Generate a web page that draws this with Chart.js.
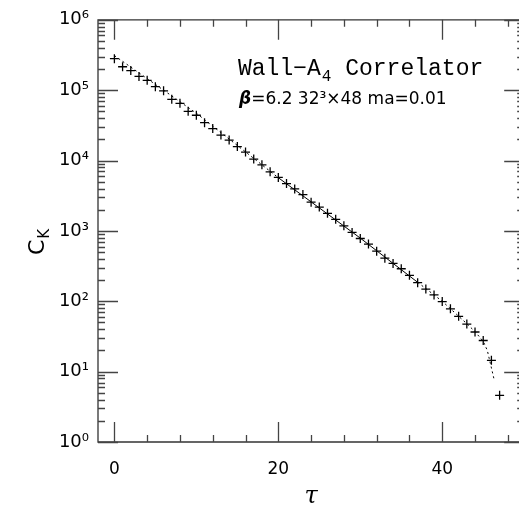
<!DOCTYPE html>
<html><head><meta charset="utf-8">
<script src="https://cdn.jsdelivr.net/npm/chart.js@4"></script>
<style>
html,body{margin:0;padding:0;width:519px;height:506px;overflow:hidden;background:#fff}
#wrap{position:absolute;left:0;top:0;width:530px;height:506px}
</style>
</head><body>
<div id="wrap"><canvas id="c" width="530" height="506"></canvas></div>
<script>
// ---- data ----
const tau = [0,1,2,3,4,5,6,7,8,9,10,11,12,13,14,15,16,17,18,19,20,21,22,23,24,25,26,27,28,29,30,31,32,33,34,35,36,37,38,39,40,41,42,43,44,45,46,47];
const corr = [2.8e5,2.15e5,1.9e5,1.57e5,1.38e5,1.12e5,9.8e4,7.4e4,6.5e4,5.0e4,4.4e4,3.45e4,2.85e4,2.3e4,1.95e4,1.58e4,1.32e4,1.05e4,8.7e3,6.9e3,5.75e3,4.7e3,3.95e3,3.28e3,2.56e3,2.18e3,1.78e3,1.46e3,1.18e3,950,780,650,515,410,345,290,234,184,149,123,99,78,61,47.4,36.6,27.7,14.5,4.6];
const fitTau = [0,10,20,30,37,40,43,44,45,45.5,46.3];
const fitVal = [3.1e5,4.7e4,5.7e3,790,186,100,48,37,27,20,8];
const fitSolidFrom = 20, fitSolidTo = 37;
const xTicks = [0,20,40];
const xMinorTicks = [0,4,8,12,16,20,24,28,32,36,40,44,48];
const yExponents = [0,1,2,3,4,5,6];
const titleLine1 = ['Wall\u2212A','4',' Correlator'];
const titleLine2 = '=6.2 32\u00B3\u00D748 ma=0.01';

const SUP = {'0':'\u2070','1':'\u00B9','2':'\u00B2','3':'\u00B3','4':'\u2074','5':'\u2075','6':'\u2076','7':'\u2077','8':'\u2078','9':'\u2079'};

const framePlugin = {
  id:'frame',
  afterDatasetsDraw(chart){
    const {ctx, chartArea:{left,right,top,bottom}, scales:{x,y}} = chart;
    ctx.save();
    ctx.strokeStyle = '#333';
    ctx.lineWidth = 1.3;
    ctx.beginPath();
    ctx.rect(left, top, right-left, bottom-top);
    ctx.stroke();
    ctx.beginPath();
    ctx.strokeStyle = '#444';
    xMinorTicks.forEach(v=>{
      const px = Math.round(x.getPixelForValue(v))+0.5;
      const len = xTicks.includes(v) ? 20 : 7;
      ctx.moveTo(px,bottom); ctx.lineTo(px,bottom-len);
      ctx.moveTo(px,top); ctx.lineTo(px,top+len);
    });
    yExponents.forEach(e=>{
      for(let m=1;m<=9;m++){
        const v = m*Math.pow(10,e);
        if(v>1e6) break;
        const py = Math.round(y.getPixelForValue(v))+0.5;
        const len = m===1 ? 20 : 7;
        ctx.moveTo(left,py); ctx.lineTo(left+len,py);
        ctx.moveTo(right,py); ctx.lineTo(right-len,py);
      }
    });
    ctx.stroke();
    ctx.restore();
  },
  afterDraw(chart){
    const ctx = chart.ctx;
    ctx.save();
    ctx.fillStyle = '#000';
    ctx.textBaseline = 'alphabetic';
    // y axis title C_K
    ctx.save();
    ctx.translate(44, 255);
    ctx.rotate(-Math.PI/2);
    ctx.font = '22px "DejaVu Sans"';
    ctx.fillText('C', 0, 0);
    const cw = ctx.measureText('C').width;
    ctx.font = '15px "DejaVu Sans"';
    ctx.fillText('K', cw+1, 5);
    ctx.restore();
    // annotation line 1
    let xx = 238;
    ctx.font = '23px "Liberation Mono"';
    ctx.fillText(titleLine1[0], xx, 75);
    xx += ctx.measureText(titleLine1[0]).width;
    ctx.font = '16px "Liberation Mono"';
    ctx.fillText(titleLine1[1], xx+1, 81);
    xx += ctx.measureText(titleLine1[1]).width + 1;
    ctx.font = '23px "Liberation Mono"';
    ctx.fillText(titleLine1[2], xx, 75);
    // annotation line 2
    xx = 239;
    ctx.font = 'italic bold 17px "DejaVu Sans"';
    ctx.fillText('\u03B2', xx, 104);
    xx += ctx.measureText('\u03B2').width;
    ctx.font = '17px "DejaVu Sans"';
    ctx.fillText(titleLine2, xx, 104);
    ctx.restore();
  }
};

new Chart(document.getElementById('c').getContext('2d'), {
  type:'scatter',
  data:{datasets:[
    {label:'fit', type:'line',
     data: fitTau.map((t,i)=>({x:t,y:fitVal[i]})),
     borderColor:'#000', borderWidth:1, pointRadius:0, fill:false, tension:0,
     segment:{borderDash: c => (c.p0.parsed.x>=fitSolidFrom && c.p0.parsed.x<fitSolidTo) ? [] : [2,3]}},
    {label:'C_K', data: tau.map((t,i)=>({x:t,y:corr[i]})),
     pointStyle:'cross', pointRadius:4.5, borderColor:'#000', borderWidth:1.3, showLine:false}
  ]},
  options:{
    responsive:false, animation:false, devicePixelRatio:1,
    layout:{padding:{top:15,right:5,left:0,bottom:0}},
    plugins:{legend:{display:false}, tooltip:{enabled:false}},
    scales:{
      x:{type:'linear', min:-2, max:50,
         afterBuildTicks: s=>{ s.ticks = xTicks.map(v=>({value:v})); },
         afterFit: s=>{ s.height = 64; },
         grid:{display:false, drawTicks:false}, border:{display:false},
         ticks:{font:{family:'DejaVu Sans', size:17}, color:'#000', padding:17, maxRotation:0},
         title:{display:true, text:'\u03C4', color:'#000', font:{family:'DejaVu Serif', style:'italic', size:24, lineHeight:0.75}, padding:{top:0,bottom:0}}},
      y:{type:'logarithmic', min:1, max:1e6,
         afterBuildTicks: s=>{ s.ticks = yExponents.map(e=>({value:Math.pow(10,e)})); },
         afterFit: s=>{ s.width = 98; },
         grid:{display:false, drawTicks:false}, border:{display:false},
         ticks:{font:{family:'DejaVu Sans', size:18}, color:'#000', padding:9,
                callback: v => '10' + String(Math.round(Math.log10(v))).split('').map(d=>SUP[d]).join('')}}
    }
  },
  plugins:[framePlugin]
});
</script>
</body></html>
